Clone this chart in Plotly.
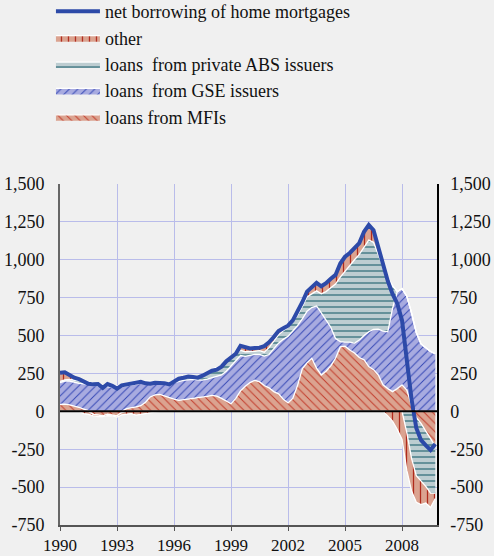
import numpy as np
import plotly.graph_objects as go

# ---------------- data (quarterly, annualised flows) ----------------
quarters = [1990 + i / 4 for i in range(80)]

loans_mfi = [
    45, 48, 43, 37,   26, 15, 4, -20,   -25, -30, -20, -25,   -30, -8, 18, 26,
    30, 37, 60, 95,   108, 112, 100, 90,   80, 72, 78, 82,   85, 90, 92, 98,
    105, 100, 85, 68,   50, 85, 135, 165,   190, 205, 195, 170,   155, 130, 115, 80,
    55, 85, 170, 280,   320, 350, 285, 240,   265, 300, 350, 425,   430, 405, 385, 355,
    340, 295, 275, 240,   175, 150, 130, 150,   175, 140, 40, -40,   -80, -130, -180, -230,
]
loans_gse = [
    145, 152, 157, 155,   159, 167, 176, 172,   168, 163, 160, 160,   158, 163, 152, 149,
    150, 148, 130, 95,   80, 74, 83, 90,   110, 128, 127, 126,   126, 118, 114, 114,
    115, 130, 155, 197,   250, 245, 233, 198,   180, 171, 181, 195,   220, 280, 335, 395,
    440, 445, 395, 330,   340, 335, 410, 410,   335, 255, 130, 35,   26, 51, 65, 115,
    160, 230, 265, 303,   355, 375, 550, 640,   635, 620, 610, 520,   445, 420, 395, 380,
]
loans_abs = [
    8, 8, 10, 12,   15, 15, 12, 10,   10, 8, 10, 10,   8, 10, 15, 18,
    20, 15, 10, 8,   8, 10, 10, 8,   12, 12, 13, 14,   15, 18, 24, 33,
    45, 50, 55, 62,   60, 48, 35, 30,   22, 20, 25, 25,   45, 55, 55, 57,
    60, 65, 68, 80,   95, 90, 100, 125,   190, 260, 360, 425,   469, 509, 550, 565,
    585, 605, 575, 487,   425, 355, 150, 0,   0, -140, -310, -385,   -380, -365, -360, -310,
]
other = [
    55, 50, 30, 15,   5, -15, -20, -10,   -10, -5, -8, -5,   -8, -15, -20, -15,
    -25, -20, -15, -10,   -5, 0, 0, 0,   0, 3, 2, 3,   0, 3, 8, 10,
    15, 10, 5, 8,   5, 10, 27, 27,   23, 22, 19, 40,   35, 25, 25, 16,
    10, 5, 22, 30,   35, 40, 53, 50,   55, 60, 60, 90,   95, 80, 80, 75,
    100, 100, 80, 50,   20, -30, -65, -120,   -185, -250, -215, -175,   -155, -110, -95, -35,
]
net_borrowing = [
    255, 258, 240, 222,   212, 195, 182, 178,   180, 155, 180, 168,   150, 172, 178, 185,
    190, 195, 185, 182,   188, 190, 186, 178,   200, 215, 222, 230,   226, 222, 235, 255,
    268, 275, 295, 330,   355, 380, 432, 420,   415, 418, 420, 430,   455, 490, 530, 548,
    565, 600, 655, 720,   790, 815, 848, 825,   845, 875, 900, 975,   1020, 1045, 1080, 1110,
    1185, 1230, 1195, 1080,   975, 860, 775, 710,   600, 340, 80, -110,   -190, -225, -255, -215,
]

year_ticks = [1990, 1993, 1996, 1999, 2002, 2005, 2008]
y_ticks = [-750, -500, -250, 0, 250, 500, 750, 1000, 1250, 1500]
y_tick_labels = ["-750", "-500", "-250", "0", "250", "500", "750", "1,000", "1,250", "1,500"]

names = {
    "net": "net borrowing of home mortgages",
    "other": "other",
    "abs": "loans  from private ABS issuers",
    "gse": "loans  from GSE issuers",
    "mfi": "loans from MFIs",
}

# ---------------- styles ----------------
FONT = "Liberation Serif, Times New Roman, serif"
BG = "#f0f0f0"
GRID = "#b9bcea"
styles = {
    "mfi": dict(shape="\\", bg="#dba390", fg="#c23a2a", size=6, sol=0.16),
    "gse": dict(shape="/", bg="#a8abe0", fg="#3447b5", size=6, sol=0.16),
    "abs": dict(shape="-", bg="#bdcdd1", fg="#5b8a94", size=6, sol=0.3),
    "other": dict(shape="|", bg="#dba390", fg="#b02a1c", size=7, sol=0.18),
}
rank = {"net": 1, "other": 2, "abs": 3, "gse": 4, "mfi": 5}

series = {"mfi": loans_mfi, "gse": loans_gse, "abs": loans_abs, "other": other}

fig = go.Figure()

for group, clip in (("pos", (0, None)), ("neg", (None, 0))):
    for key in ["mfi", "gse", "abs", "other"]:
        vals = np.clip(np.array(series[key], dtype=float), clip[0], clip[1])
        if group == "neg" and not np.any(vals < 0):
            continue
        st = styles[key]
        fig.add_trace(go.Scatter(
            x=quarters, y=vals, stackgroup=group, mode="lines",
            name=names[key], legendgroup=key, showlegend=(group == "pos"),
            legendrank=rank[key],
            line=dict(color="white", width=1.3),
            fillcolor=st["bg"],
            fillpattern=dict(shape=st["shape"], bgcolor=st["bg"], fgcolor=st["fg"],
                             size=st["size"], solidity=st["sol"], fillmode="replace"),
            hoverinfo="skip",
        ))

fig.add_trace(go.Scatter(
    x=quarters, y=net_borrowing, mode="lines", name=names["net"],
    legendrank=rank["net"], line=dict(color="#2d4aa8", width=4),
))

# invisible trace to carry the right-hand axis
fig.add_trace(go.Scatter(x=[quarters[0]], y=[0], yaxis="y2", mode="markers",
                         marker=dict(opacity=0), showlegend=False, hoverinfo="skip"))

fig.add_shape(type="line", xref="paper", x0=0, x1=1, yref="y", y0=0, y1=0,
              line=dict(color="black", width=2), layer="above")

fig.update_layout(
    width=494, height=556,
    margin=dict(l=60, r=57, t=184, b=31, autoexpand=False),
    paper_bgcolor=BG, plot_bgcolor=BG,
    font=dict(family=FONT, size=18, color="#111"),
    showlegend=True,
    legend=dict(x=-0.024, y=1.56, xanchor="left", yanchor="top",
                bgcolor="rgba(0,0,0,0)", font=dict(size=18),
                itemwidth=44, tracegroupgap=0, traceorder="normal"),
    xaxis=dict(range=[1990, 2009.84], tickvals=year_ticks, showgrid=True,
               gridcolor=GRID, gridwidth=1, zeroline=False, automargin=False,
               showline=True, linecolor="#555", linewidth=1.5,
               ticks="outside", ticklen=4, tickcolor="#555", ticklabelstandoff=0,
               tickfont=dict(size=17)),
    yaxis=dict(range=[-750, 1500], tickvals=y_ticks, ticktext=y_tick_labels,
               showgrid=True, gridcolor=GRID, gridwidth=1, zeroline=False,
               automargin=False,
               showline=True, linecolor="#666", linewidth=2, ticks="",
               ticklabelstandoff=10),
    yaxis2=dict(range=[-750, 1500], tickvals=y_ticks, ticktext=y_tick_labels,
                overlaying="y", side="right", showgrid=False, zeroline=False,
                automargin=False,
                showline=True, linecolor="black", linewidth=1.5, ticks="",
                ticklabelstandoff=8),
)

fig.write_html(
    "out.html",
    config={"displayModeBar": False},
    post_script="document.body.style.margin='0';document.body.style.background='#f0f0f0';",
)
